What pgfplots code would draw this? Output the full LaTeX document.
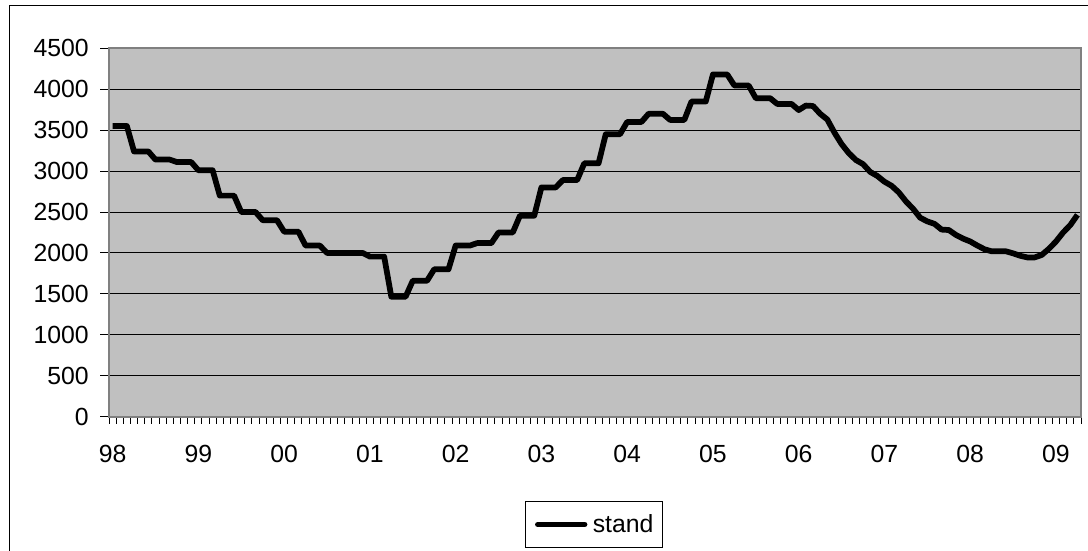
\documentclass[border=0pt]{standalone}
\usepackage{fontspec}
\setmainfont{Liberation Sans}
\usepackage{pgfplots}
\usepackage{pgfplotstable}
\pgfplotsset{compat=1.18}
\definecolor{plotbg}{HTML}{C0C0C0}
\definecolor{frameg}{HTML}{808080}

\pgfplotstableread{
m v
0 3550
1 3550
2 3550
3 3240
4 3240
5 3240
6 3140
7 3140
8 3140
9 3110
10 3110
11 3110
12 3010
13 3010
14 3010
15 2700
16 2700
17 2700
18 2500
19 2500
20 2500
21 2400
22 2400
23 2400
24 2260
25 2260
26 2260
27 2090
28 2090
29 2090
30 2000
31 2000
32 2000
33 2000
34 2000
35 2000
36 1955
37 1955
38 1955
39 1465
40 1465
41 1465
42 1660
43 1660
44 1660
45 1800
46 1800
47 1800
48 2090
49 2090
50 2090
51 2120
52 2120
53 2120
54 2250
55 2250
56 2250
57 2455
58 2455
59 2455
60 2800
61 2800
62 2800
63 2890
64 2890
65 2890
66 3095
67 3095
68 3095
69 3450
70 3450
71 3450
72 3600
73 3600
74 3600
75 3700
76 3700
77 3700
78 3625
79 3625
80 3625
81 3850
82 3850
83 3850
84 4180
85 4180
86 4180
87 4045
88 4045
89 4045
90 3890
91 3890
92 3890
93 3820
94 3820
95 3820
96 3745
97 3800
98 3795
99 3700
100 3630
101 3470
102 3330
103 3220
104 3135
105 3085
106 2990
107 2940
108 2870
109 2820
110 2740
111 2630
112 2540
113 2430
114 2385
115 2355
116 2285
117 2280
118 2220
119 2175
120 2140
121 2090
122 2045
123 2020
124 2020
125 2020
126 1995
127 1965
128 1945
129 1945
130 1975
131 2050
132 2140
133 2250
134 2340
135 2465
}\stand

\begin{document}
\begin{tikzpicture}
\useasboundingbox (0pt,0pt) rectangle (816pt,412.5pt);
\draw[black, line width=0.75pt] (6.75pt,-5pt) -- (6.75pt,408pt) -- (830pt,408pt);
\begin{axis}[
  at={(81.75pt,100pt)}, anchor=south west,
  scale only axis, width=729pt, height=276.3pt,
  xmin=-0.5, xmax=135.5, ymin=0, ymax=4500,
  axis background/.style={fill=plotbg},
  axis line style={draw=frameg, line width=1.5pt},
  ytick={0,500,...,4500},
  xtick={0,12,...,132},
  xticklabels={98,99,00,01,02,03,04,05,06,07,08,09},
  minor xtick={-0.5,0.5,...,135.5},
  major x tick style={draw=none},
  xtick pos=bottom, ytick pos=left,
  tick align=outside,
  major tick length=6.75pt,
  minor tick length=5.25pt,
  tick style={black, line width=0.75pt},
  ymajorgrids,
  major grid style={black, line width=0.75pt},
  tick label style={font=\fontsize{18.6}{22}\selectfont},
  /pgf/number format/assume math mode=true,
  /pgf/number format/1000 sep={},
  yticklabel style={anchor=east, inner sep=0pt, xshift=-8.25pt},
  xticklabel style={anchor=north, inner sep=0pt, yshift=-14.7pt},
  legend style={at={(0.4992,-0.2926)}, anchor=center, draw=black,
    line width=0.75pt, fill=white, font=\fontsize{18.6}{22}\selectfont,
    inner xsep=7pt, inner ysep=9.7pt, column sep=4pt,
    nodes={inner sep=0pt}},
  legend image code/.code={\draw[#1, line cap=round] (0pt,0pt) -- (35pt,0pt);},
]
\addplot[black, line width=4.3pt, line join=round] table[x=m, y=v] {\stand};
\addlegendentry{stand}
\end{axis}
\end{tikzpicture}
\end{document}
